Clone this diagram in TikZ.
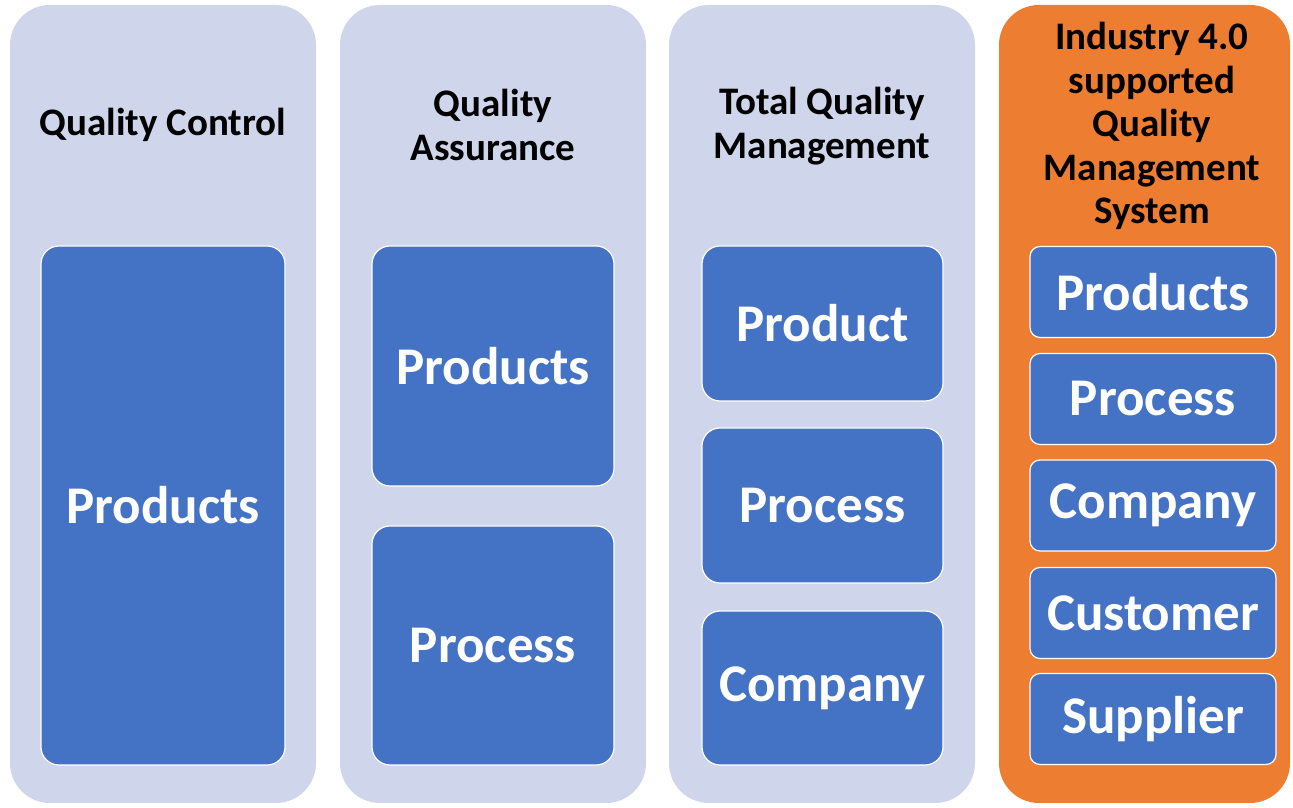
\documentclass[tikz,border=0pt]{standalone}
\usepackage{fontspec}
\setmainfont{Carlito}
\usepackage{tikz}

\definecolor{lavender}{HTML}{CFD5EA}
\definecolor{itemblue}{HTML}{4472C4}
\definecolor{industry}{HTML}{ED7D31}

\tikzset{
  column/.style={rectangle,rounded corners=40pt,fill=lavender,inner sep=0pt,
    minimum width=306pt,minimum height=798pt},
  item/.style={rectangle,rounded corners=18pt,fill=itemblue,draw=white,line width=1.2pt,
    text=white,inner sep=0pt,font=\fontsize{53}{60}\selectfont\bfseries},
  heading/.style={align=center,text=black,font=\fontsize{39}{43.5}\selectfont\bfseries}
}

\begin{document}
\begin{tikzpicture}[x=1pt,y=1pt]
\useasboundingbox (0,0) rectangle (1293,808);

\node[column] (qc) at (163,404) {};
\node[column] (qa) at (493,404) {};
\node[column] (tqm) at (822,404) {};
\node[column,fill=industry,minimum width=291pt] (iqm) at (1144.5,404) {};

\node[heading] (qcTitle) at (163,683) {Quality Control};
\node[heading] (qaTitle) at (493,683) {Quality\\Assurance};
\node[heading] (tqmTitle) at (822,682) {Total Quality\\Management};
\node[heading] (iqmTitle) at (1152,682) {Industry 4.0\\supported\\Quality\\Management\\System};

\node[item,minimum width=244pt,minimum height=519pt] (qcProducts) at (163,302.5) {Products};

\node[item,minimum width=242pt,minimum height=240pt] (qaProducts) at (493,442) {Products};
\node[item,minimum width=242pt,minimum height=239pt] (qaProcess) at (493,162.5) {Process};

\node[item,minimum width=241pt,minimum height=155pt] (tqmProduct) at (822.5,484.5) {Product};
\node[item,minimum width=241pt,minimum height=155pt] (tqmProcess) at (822.5,302.5) {Process};
\node[item,minimum width=241pt,minimum height=154pt] (tqmCompany) at (822.5,120) {Company};

\tikzset{item/.append style={rounded corners=10pt,minimum width=246pt,minimum height=91pt}}
\node[item] (iqmProducts) at (1153,516) {Products};
\node[item] (iqmProcess) at (1153,409) {Process};
\node[item] (iqmCompany) at (1153,302.5) {Company};
\node[item] (iqmCustomer) at (1153,195) {Customer};
\node[item] (iqmSupplier) at (1153,89) {Supplier};
\end{tikzpicture}
\end{document}
